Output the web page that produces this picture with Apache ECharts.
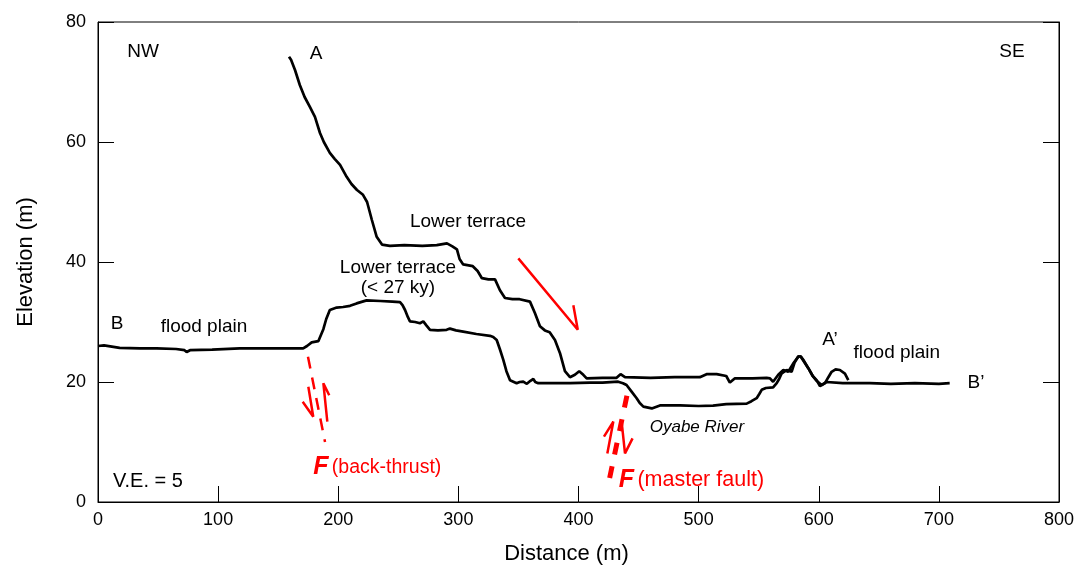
<!DOCTYPE html>
<html>
<head>
<meta charset="utf-8">
<script src="https://cdn.jsdelivr.net/npm/echarts@6/dist/echarts.min.js"></script>
<style>
  html, body {margin: 0; padding: 0; background: #fff;}
  #main {width: 1083px; height: 577px;}
</style>
</head>
<body>
<div id="main"></div>
<script>
// profile A - A' (distance m, elevation m)
const profileA = [
  [159,74.2],[160.7,73.7],[164,72],[168,69.5],[172,67.5],[176.5,65.8],[180.6,64.2],[184.8,61.5],
  [188,60],[193,58.2],[197,57.2],[201.5,56.2],[207,54.2],[211,53],[215.6,52],[220.6,51.2],[224,50],
  [228,47],[232,44.2],[236.4,42.9],[243,42.7],[255,42.8],[270,42.7],[282,42.8],[290.5,43.1],
  [295,42.6],[298.8,42.1],[301,40.5],[304,39.6],[312,39.3],[316,38.5],[319.6,37.3],[325,37.1],
  [330.5,37.1],[334.6,35.3],[338.8,34],[345,33.8],[351,33.8],[359.6,33.4],[363.7,31.5],[367.9,29.3],
  [372,28.6],[376,28.3],[380.4,27],[384.6,24.8],[388.7,21.8],[392.9,20.8],[397,21.2],[400.6,21.8],
  [404,21.2],[406.8,20.6],[420,20.7],[431.7,20.7],[435,21.3],[438.7,20.8],[460,20.7],[480,20.8],
  [501,20.8],[506.6,21.3],[515,21.3],[523,21],[526,19.9],[530,20.6],[545,20.6],[556.6,20.7],
  [559.4,20.6],[562,20.05],[566.3,21.2],[570.5,22],[574.6,21.7],[578.8,23.1],[583,24.2],[585,24.3],
  [587.1,23.7],[591.3,22.3],[595,21],[598.2,20.3],[601,19.3],[605.2,19.8],[608,20.8],[610.7,21.7],
  [614,22.1],[617.6,22],[621.8,21.4],[624.6,20.3]
];

// profile B - B'
const profileB = [
  [0,26],[5,26.1],[18,25.7],[35,25.6],[48.8,25.6],[65,25.5],[72,25.3],[73.8,25],[76.6,25.3],
  [95,25.4],[118,25.6],[140,25.6],[160,25.6],[170.8,25.6],[174,26],[177.9,26.6],[183.4,26.8],
  [185.5,27.8],[187.6,28.8],[190,30.5],[193,32],[198.7,32.4],[204,32.5],[209.8,32.7],[215.3,33.1],
  [223.6,33.6],[235,33.5],[245,33.4],[251.4,33.3],[253.5,32.8],[255.6,32],[258,30.8],[259.7,30.1],
  [264,30],[268,29.8],[270.8,30.1],[273.5,29.4],[276.4,28.7],[283,28.6],[290.2,28.7],[293,28.9],
  [298,28.6],[304,28.4],[315,28],[326.3,27.7],[329,27.5],[331.9,27],[334.5,25.5],[337.4,23.7],
  [340,21.8],[343,20.3],[348.5,19.8],[351,20],[354,20.05],[357,19.7],[360,20.2],[362.4,20.5],
  [364,20],[366.5,19.8],[380,19.8],[393,19.8],[409.6,19.9],[420,19.9],[433,20.05],[437,19.8],
  [440,19.5],[444.2,18.4],[448.4,17.3],[451,16.5],[454,15.9],[461,15.6],[467.8,16.1],[484.5,16.1],
  [500,16],[512,16.05],[523,16.3],[540,16.4],[544,16.8],[548.3,17.3],[550.5,18],[552.5,18.7],
  [556,19],[562,19.1],[565,19.8],[567,20.5],[569,21.4],[573.3,22],[577.4,21.7],[580,23.3],
  [583,24.3],[585,24.2],[587.1,23.6],[591.3,22.3],[595,21],[598.2,20.2],[602.4,19.5],[606.5,20],
  [620,19.8],[642.6,19.8],[660,19.7],[680,19.8],[700,19.7],[709,19.8]
];

const xTicks = [0, 100, 200, 300, 400, 500, 600, 700, 800];
const yTicks = [0, 20, 40, 60, 80];

// fault traces and slip arrows (data units)
const backThrust = [[174.8,24.2],[189,10]];
const backThrustArrowDown = [[175.1,19.2],[179.2,14.2],[170.4,16.7]];
const backThrustArrowUp = [[190.9,13.4],[187.6,19.8],[192.5,17.8]];
const masterFault = [[440.3,17.7],[425.4,3.5]];
const masterArrowUp = [[424,8.1],[429,13.4],[421.2,10.9]];
const masterArrowDown = [[435.9,13.4],[438.7,8.1],[445,10.6]];
const tiltArrow = [[349.9,40.6],[399.4,28.7],[395.7,32.8]];

// text notes: [distance, elevation, text]
const blackNotes = [
  [37.5,75,'NW'],[760.8,75,'SE'],[181.5,74.7,'A'],[15.8,29.7,'B'],[88.2,29.2,'flood plain'],
  [308,46.7,'Lower terrace'],[249.7,37.4,'Lower terrace\n(< 27 ky)'],[609.3,27,'A\u2019'],
  [665,24.8,'flood plain'],[730.9,19.8,'B\u2019']
];
const veNote = [[41.6,3.5,'V.E. = 5']];
const riverNote = [[498.6,12.5,'Oyabe River']];
const backThrustNote = [[232.5,5.8,'back-thrust']];
const masterFaultNote = [[494,3.7,'master fault']];

const font = 'Liberation Sans, Arial, Helvetica, sans-serif';
const narrow = 'Liberation Sans Narrow, Liberation Sans, Arial, sans-serif';
const red = '#ff0000';

var myChart = echarts.init(document.getElementById('main'));

const profileLine = (data) => ({
  type: 'line', data: data, showSymbol: false, silent: true,
  lineStyle: {color: '#000', width: 2.7}, z: 3
});
const redLine = (data, width, dash) => ({
  type: 'line', data: data, showSymbol: false, silent: true,
  lineStyle: {color: red, width: width, type: dash || 'solid'}, z: 4
});
const textSeries = (notes, label) => ({
  type: 'scatter', silent: true, symbolSize: 0,
  itemStyle: {color: '#000', opacity: 1},
  data: notes.map(n => ({value: [n[0], n[1]], name: n[2]})),
  label: Object.assign({show: true, position: 'inside', textBorderWidth: 0,
    formatter: p => p.name}, label),
  z: 5
});
const faultLabel = (size) => ({
  formatter: p => '{f|F} {t|(' + p.name + ')}',
  rich: {
    f: {fontFamily: font, fontSize: 25, fontWeight: 'bold', fontStyle: 'italic', color: red},
    t: {fontFamily: font, fontSize: size, color: red}
  }
});

var option = {
  animation: false,
  grid: {left: 98, right: 24, top: 22, bottom: 75, show: true, borderColor: '#000', borderWidth: 1},
  xAxis: {
    type: 'value', min: xTicks[0], max: xTicks[xTicks.length - 1], interval: 100,
    name: 'Distance (m)', nameLocation: 'middle', nameGap: 41,
    nameTextStyle: {fontFamily: font, fontSize: 22, color: '#000', padding: [0, 24, 0, 0]},
    axisLine: {lineStyle: {color: '#000', width: 1}},
    axisTick: {inside: true, length: 16, lineStyle: {color: '#000'}},
    axisLabel: {fontFamily: narrow, fontSize: 18, color: '#000', margin: 9},
    splitLine: {show: false}
  },
  yAxis: [{
    type: 'value', min: yTicks[0], max: yTicks[yTicks.length - 1], interval: 20,
    name: 'Elevation (m)', nameLocation: 'middle', nameGap: 61,
    nameTextStyle: {fontFamily: font, fontSize: 22, color: '#000'},
    axisLine: {lineStyle: {color: '#000', width: 1}},
    axisTick: {inside: true, length: 16, lineStyle: {color: '#000'}},
    axisLabel: {fontFamily: narrow, fontSize: 18, color: '#000', margin: 12},
    splitLine: {show: false}
  }, {
    type: 'value', position: 'right', min: yTicks[0], max: yTicks[yTicks.length - 1], interval: 20,
    axisLine: {show: true, lineStyle: {color: '#000', width: 1}},
    axisTick: {inside: true, length: 16, lineStyle: {color: '#000'}},
    axisLabel: {show: false},
    splitLine: {show: false}
  }],
  series: [
    profileLine(profileA),
    profileLine(profileB),
    redLine(backThrust, 2.5, [12, 9]),
    redLine(backThrustArrowDown, 2.5),
    redLine(backThrustArrowUp, 2.5),
    redLine(masterFault, 5, [12, 12]),
    redLine(masterArrowUp, 2.5),
    redLine(masterArrowDown, 2.5),
    redLine(tiltArrow, 2.5),
    textSeries(blackNotes, {fontFamily: font, fontSize: 19, color: '#000', lineHeight: 20}),
    textSeries(veNote, {fontFamily: font, fontSize: 20, color: '#000'}),
    textSeries(riverNote, {fontFamily: narrow, fontSize: 17, color: '#000', fontStyle: 'italic'}),
    textSeries(backThrustNote, faultLabel(19.5)),
    textSeries(masterFaultNote, faultLabel(21.5))
  ]
};

myChart.setOption(option);
</script>
</body>
</html>
